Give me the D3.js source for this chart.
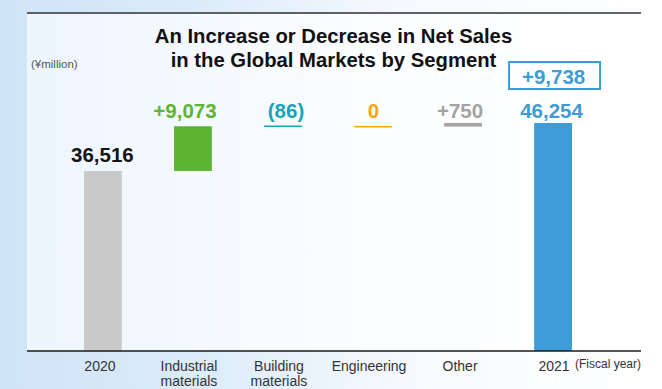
<!DOCTYPE html>
<html>
<head>
<meta charset="utf-8">
<script src="https://cdn.jsdelivr.net/npm/d3@7"></script>
<style>
  html, body { margin: 0; padding: 0; background: #fff; }
  svg { display: block; font-family: "Liberation Sans", Arial, Helvetica, sans-serif; }
</style>
</head>
<body>
<svg id="chart" width="662" height="389"></svg>
<script>
// ---- data ----
const categories = ["2020", "Industrial materials", "Building materials", "Engineering", "Other", "2021"];
const startValue = 36516;
const endValue = 46254;
const deltas = [9073, -86, 0, 750];
const valueLabels = ["36,516", "+9,073", "(86)", "0", "+750", "46,254"];
const totalChangeLabel = "+9,738";
const barColors = ["#c9c9c9", "#5cb531", "#18a3b6", "#f6a800", "#a5a5a5", "#3e9bd6"];
const labelColors = ["#141414", "#5cb531", "#18a3b6", "#f6a800", "#a3a3a3", "#3e9bd6"];
const titleLines = ["An Increase or Decrease in Net Sales", "in the Global Markets by Segment"];
const unitLabel = "(¥million)";
const fiscalLabel = "(Fiscal year)";

// ---- build waterfall segments ----
const segs = [];
segs.push({ cat: categories[0], lo: 0, hi: startValue });
let level = startValue;
deltas.forEach((d, i) => {
  const next = level + d;
  segs.push({ cat: categories[i + 1], lo: Math.min(level, next), hi: Math.max(level, next) });
  level = next;
});
segs.push({ cat: categories[5], lo: 0, hi: endValue });

const svg = d3.select("#chart");
const W = 662, H = 389;

// ---- background ----
const defs = svg.append("defs");
const bg = defs.append("linearGradient").attr("id", "bg").attr("x1", 0).attr("x2", 1).attr("y1", 0).attr("y2", 0);
bg.append("stop").attr("offset", "0%").attr("stop-color", "#cfe4f6");
bg.append("stop").attr("offset", "30%").attr("stop-color", "#dcebf9");
bg.append("stop").attr("offset", "62%").attr("stop-color", "#f6fafe");
bg.append("stop").attr("offset", "100%").attr("stop-color", "#ffffff");
const pg = defs.append("linearGradient").attr("id", "pg").attr("x1", 0).attr("x2", 1).attr("y1", 0).attr("y2", 0);
pg.append("stop").attr("offset", "0%").attr("stop-color", "#edf5fd");
pg.append("stop").attr("offset", "55%").attr("stop-color", "#fbfdff");
pg.append("stop").attr("offset", "100%").attr("stop-color", "#ffffff");

svg.append("rect").attr("width", W).attr("height", H).attr("fill", "url(#bg)");

const panel = { x0: 27, x1: 641, y0: 13, y1: 351 };
svg.append("rect").attr("x", panel.x0).attr("y", panel.y0)
  .attr("width", panel.x1 - panel.x0).attr("height", panel.y1 - panel.y0)
  .attr("fill", "url(#pg)");

// ---- scales ----
const x = d3.scaleBand().domain(categories).range([39, 617]).paddingInner(0.58).paddingOuter(0.5);
const y = d3.scaleLinear().domain([0, 50000]).range([panel.y1, 104.5]);

// ---- bars ----
svg.append("g").selectAll("rect").data(segs).join("rect")
  .attr("x", d => x(d.cat))
  .attr("width", x.bandwidth())
  .attr("y", d => {
    const h = y(d.lo) - y(d.hi);
    return h < 1.5 ? y(d.hi) - 0.75 : y(d.hi);
  })
  .attr("height", d => Math.max(1.5, y(d.lo) - y(d.hi)))
  .attr("fill", (d, i) => barColors[i]);

// ---- frame lines ----
svg.append("line").attr("x1", panel.x0).attr("x2", panel.x1).attr("y1", panel.y0).attr("y2", panel.y0)
  .attr("stroke", "#2b3038").attr("stroke-width", 1.5);

const xAxis = svg.append("g").attr("transform", `translate(0,${panel.y1})`)
  .call(d3.axisBottom(x).tickSize(0).tickFormat(""));
xAxis.select(".domain").attr("d", `M${panel.x0},0H${panel.x1}`).attr("stroke", "#1a1a1a").attr("stroke-width", 1.5);

// category labels (two lines where needed)
const labelShift = [-3, -4, -4, -4, -3, 1];
const catLabels = svg.append("g");
categories.forEach((c, i) => {
  const words = c.split(" ");
  const cx = x(c) + x.bandwidth() / 2 + labelShift[i];
  const t = catLabels.append("text").attr("x", cx).attr("y", 370.5)
    .attr("text-anchor", "middle").attr("font-size", 14).attr("fill", "#333");
  if (words.length > 1) {
    t.append("tspan").attr("x", cx).attr("dy", 0).text(words[0]);
    t.append("tspan").attr("x", cx).attr("dy", 15.5).text(words.slice(1).join(" "));
  } else {
    t.text(c);
  }
});
svg.append("text").attr("x", 575).attr("y", 368).attr("font-size", 12).attr("fill", "#333").text(fiscalLabel);

// ---- value labels ----
const valueShift = [-0.5, -8, 3, 0.5, -3, -1.5];
const rowY = y(startValue + deltas[0]) - 8;
svg.append("g").selectAll("text").data(segs).join("text")
  .attr("x", (d, i) => x(d.cat) + x.bandwidth() / 2 + valueShift[i])
  .attr("y", (d, i) => i === 0 ? y(d.hi) - 9 : rowY)
  .attr("text-anchor", "middle")
  .attr("font-size", 20.5).attr("font-weight", "bold")
  .attr("fill", (d, i) => labelColors[i])
  .text((d, i) => valueLabels[i]);

// ---- total change box ----
const lastCat = categories[categories.length - 1];
const bcx = x(lastCat) + x.bandwidth() / 2 + 1.5;
svg.append("rect").attr("x", bcx - 45.5).attr("y", 62).attr("width", 91).attr("height", 27)
  .attr("fill", "#ffffff").attr("stroke", "#3e9bd6").attr("stroke-width", 2);
svg.append("text").attr("x", bcx - 1).attr("y", 83.5).attr("text-anchor", "middle")
  .attr("font-size", 20.5).attr("font-weight", "bold").attr("fill", "#3e9bd6").text(totalChangeLabel);

// ---- title and unit ----
const title = svg.append("text").attr("text-anchor", "middle").attr("font-size", 20.3)
  .attr("font-weight", "bold").attr("fill", "#111");
titleLines.forEach((l, i) => {
  title.append("tspan").attr("x", 333.5).attr("y", 43 + i * 23.5).text(l);
});
svg.append("text").attr("x", 31).attr("y", 68).attr("font-size", 11.5).attr("fill", "#555").text(unitLabel);
</script>
</body>
</html>
